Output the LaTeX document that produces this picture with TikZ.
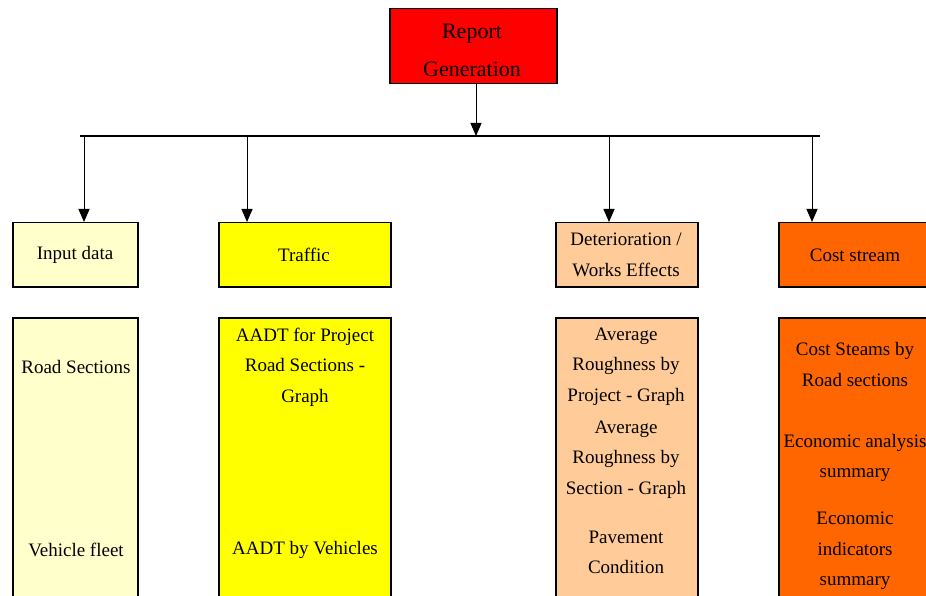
\documentclass[tikz,border=0pt]{standalone}
\usepackage{fontspec}
\setmainfont{Liberation Serif}
\usetikzlibrary{arrows.meta,positioning}
\definecolor{repred}{HTML}{FF0000}
\definecolor{inyellow}{HTML}{FFFFCC}
\definecolor{trafyellow}{HTML}{FFFF00}
\definecolor{detpeach}{HTML}{FFCC99}
\definecolor{costorange}{HTML}{FF6600}
\tikzset{
  box/.style={draw=black,line width=1.5pt,inner sep=0pt,anchor=north west},
  txt/.style={align=center,font=\fontsize{19}{30.5}\selectfont},
  link/.style={line width=1pt,-{Triangle[length=13pt,width=11pt]}}
}

\begin{document}
\begin{tikzpicture}[x=1pt,y=-1pt]
  \clip (0,0) rectangle (926,596);
  \fill[white] (0,0) rectangle (926,596);

  \node[box,fill=repred,minimum width=167,minimum height=75] (rep) at (389,8) {};
  \node[align=center,font=\fontsize{22}{38}\selectfont] (reptxt) at (472,50) {Report\\Generation};

  \coordinate (bus) at (476,136);
  \coordinate (busL) at (80,136);
  \coordinate (busR) at (820,136);
  \draw[link] (bus |- rep.south) -- (bus);
  \draw[line width=1.5pt] (busL) -- (busR);

  \node[box,fill=inyellow,minimum width=125,minimum height=64] (input) at (12,222) {};
  \node[box,fill=trafyellow,minimum width=172,minimum height=64] (traffic) at (218,222) {};
  \node[box,fill=detpeach,minimum width=142,minimum height=64] (det) at (555,222) {};
  \node[box,fill=costorange,minimum width=154,minimum height=64] (cost) at (778,222) {};

  \node[txt] (inputtxt) at (75,255) {Input data};
  \node[txt] (traffictxt) at (304,255) {Traffic};
  \node[txt] (dettxt) at (626,255) {Deterioration /\\Works Effects};
  \node[txt] (costtxt) at (855,255) {Cost stream};

  \coordinate (d1) at (84,136);
  \coordinate (d2) at (247,136);
  \coordinate (d3) at (609,136);
  \coordinate (d4) at (812,136);
  \draw[link] (d1) -- (d1 |- input.north);
  \draw[link] (d2) -- (d2 |- traffic.north);
  \draw[link] (d3) -- (d3 |- det.north);
  \draw[link] (d4) -- (d4 |- cost.north);

  \node[box,fill=inyellow,minimum width=125,minimum height=290] (inputbox) at (12,317) {};
  \node[box,fill=trafyellow,minimum width=172,minimum height=290] (trafficbox) at (218,317) {};
  \node[box,fill=detpeach,minimum width=142,minimum height=290] (detbox) at (555,317) {};
  \node[box,fill=costorange,minimum width=154,minimum height=290] (costbox) at (778,317) {};

  \node[txt] (roadsec) at (76,367) {Road Sections};
  \node[txt] (fleet) at (76,550) {Vehicle fleet};

  \node[txt] (aadtproj) at (305,367) {AADT for Project\\Road Sections -\\Graph};
  \node[txt] (aadtveh) at (305,550) {AADT by Vehicles};

  \node[txt] (roughproj) at (626,366.5) {Average\\Roughness by\\Project - Graph};
  \node[txt] (roughsec) at (626,459.5) {Average\\Roughness by\\Section - Graph};
  \node[txt] (pavement) at (626,552.5) {Pavement\\Condition};

  \node[txt] (coststeams) at (855,364.5) {Cost Steams by\\Road sections};
  \node[txt] (econana) at (855,458) {Economic analysis\\summary};
  \node[txt] (econind) at (855,551) {Economic\\indicators\\summary};
\end{tikzpicture}
\end{document}
